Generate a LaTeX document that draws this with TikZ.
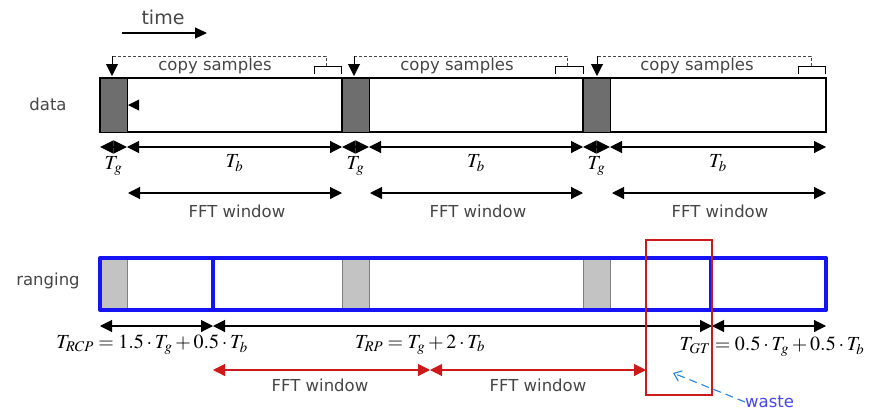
\documentclass[tikz,border=0pt]{standalone}
\usepackage{mathptmx}
\usepackage[no-math]{fontspec}
\newfontfamily\lblfont{DejaVu Sans}
\usetikzlibrary{arrows.meta}

\definecolor{txtgray}{RGB}{70,70,70}
\definecolor{guarddark}{RGB}{110,110,110}
\definecolor{guardlight}{RGB}{195,195,195}
\definecolor{rangeblue}{RGB}{20,20,245}
\definecolor{winred}{RGB}{205,25,25}
\definecolor{wasteblue}{RGB}{40,130,220}
\definecolor{wastetxt}{RGB}{70,70,235}

\tikzset{
  lbl/.style={font=\lblfont\fontsize{16.5}{18}\selectfont, text=txtgray, inner sep=0pt},
  mathlbl/.style={font=\fontsize{20}{22}\selectfont, inner sep=0pt},
  dimline/.style={{Triangle[length=12pt,width=12pt]}-{Triangle[length=12pt,width=12pt]}, line width=1.1pt},
  guarddim/.style={{Triangle[length=13.5pt,width=13pt]}-{Triangle[length=13.5pt,width=13pt]}, line width=1.1pt},
  redline/.style={{Triangle[length=12pt,width=12pt]}-{Triangle[length=12pt,width=12pt]}, line width=1.1pt, draw=winred, fill=winred},
  copyline/.style={densely dashed, line width=0.9pt, draw=txtgray},
  bracketline/.style={line width=1pt, draw=black},
  guardA/.style={fill=guarddark, draw=black, line width=1pt},
  guardB/.style={fill=guardlight, draw=gray, line width=1pt},
  symbox/.style={draw=black, line width=1.1pt},
  rangebox/.style={draw=rangeblue, line width=4pt, line join=round},
}

\begin{document}
\begin{tikzpicture}[x=1pt,y=-1pt]
\useasboundingbox (0,0) rectangle (870,410);

% ---------------- time arrow
\node[lbl, font=\lblfont\fontsize{19}{21}\selectfont] (time) at (163,17) {time};
\coordinate (t0) at (122,33);
\coordinate (t1) at (207,33);
\draw[-{Triangle[length=12pt,width=11pt]}, line width=1.1pt] (t0) -- (t1);

% ---------------- row labels
\node[lbl] (data) at (48,104) {data};
\node[lbl] (ranging) at (48,281) {ranging};

% ---------------- data row: three OFDM symbols (guard + body)
\foreach \g/\e/\n in {100/342/1, 342/583/2, 583/826/3}{
  \pgfmathsetmacro{\gb}{\g+27}
  \coordinate (gs\n) at (\g,78);
  \coordinate (ge\n) at (\gb,132);
  \coordinate (se\n) at (\e,132);
  \draw[symbox] (gs\n) rectangle (se\n);
  \draw[guardA] (gs\n) rectangle (ge\n);
}

% cyclic-prefix copy arrows
\foreach \a/\m/\bl/\br/\cx/\n in {112/326/314/341/215/1, 354/567/555/583/457/2, 597/811/798/825/697/3}{
  \coordinate (ca\n) at (\a,56);
  \coordinate (cd\n) at (\a,76);
  \coordinate (cm\n) at (\m,56);
  \coordinate (cb\n) at (\m,66);
  \coordinate (bl\n) at (\bl,66);
  \coordinate (br\n) at (\br,66);
  \coordinate (blt\n) at (\bl,74);
  \coordinate (brt\n) at (\br,74);
  \draw[copyline] (cb\n) -- (cm\n) -- (ca\n);
  \draw[line width=1pt, -{Triangle[length=12pt,width=12pt]}] (ca\n) -- (cd\n);
  \draw[bracketline] (blt\n) -- (bl\n) -- (br\n) -- (brt\n);
  \node[lbl] (cs\n) at (\cx,66) {copy samples};
}

% marker at the start of the first body
\fill (128,105) -- (139,99.5) -- (139,110.5) -- cycle;

% durations under the data row
\foreach \g/\e/\n in {100/342/1, 342/583/2, 583/826/3}{
  \pgfmathsetmacro{\gb}{\g+27}
  \pgfmathsetmacro{\gm}{\g+13.5}
  \pgfmathsetmacro{\bm}{(\gb+\e)/2}
  \coordinate (dg0\n) at (\g,147);
  \coordinate (dg1\n) at (\gb,147);
  \coordinate (db1\n) at (\e,147);
  \draw[guarddim] (dg0\n) -- (dg1\n);
  \draw[dimline] (dg1\n) -- (db1\n);
  \node[mathlbl] (Tg\n) at (\gm,166) {$T_g$};
  \node[mathlbl] (Tb\n) at (\bm,163) {$T_b$};
}

% FFT windows of the data symbols
\foreach \l/\r/\c/\n in {128/342/237/1, 370/583/478/2, 612/826/720/3}{
  \coordinate (fl\n) at (\l,193);
  \coordinate (fr\n) at (\r,193);
  \draw[dimline] (fl\n) -- (fr\n);
  \node[lbl] (fw\n) at (\c,211) {FFT window};
}

% ---------------- ranging row
\foreach \g/\n in {100/1, 342/2, 583/3}{
  \pgfmathsetmacro{\gb}{\g+27}
  \coordinate (rg0\n) at (\g,258);
  \coordinate (rg1\n) at (\gb,310);
  \draw[guardB] (rg0\n) rectangle (rg1\n);
}
\coordinate (rA) at (100,258);
\coordinate (rB) at (826,310);
\coordinate (rp0) at (213,258);
\coordinate (rp1) at (213,310);
\coordinate (rq0) at (711,258);
\coordinate (rq1) at (711,310);
\draw[rangebox] (rA) rectangle (rB);
\draw[rangebox] (rp0) -- (rp1);
\draw[rangebox] (rq0) -- (rq1);

% durations under the ranging row
\coordinate (m0) at (100,326);
\coordinate (m1) at (213,326);
\coordinate (m2) at (712,326);
\coordinate (m3) at (826,326);
\draw[dimline] (m0) -- (m1);
\draw[dimline] (m1) -- (m2);
\draw[dimline] (m2) -- (m3);
\node[mathlbl] (Trcp) at (152,345) {$T_{RCP} = 1.5\cdot T_g + 0.5\cdot T_b$};
\node[mathlbl] (Trp) at (420,345) {$T_{RP} = T_g + 2\cdot T_b$};
\node[mathlbl] (Tgt) at (772,347) {$T_{GT} = 0.5\cdot T_g + 0.5\cdot T_b$};

% FFT windows of the ranging symbol
\coordinate (w0) at (213,370);
\coordinate (w1) at (430,370);
\coordinate (w2) at (646,370);
\draw[redline] (w0) -- (w1);
\draw[redline] (w1) -- (w2);
\node[lbl] (rw1) at (320,385) {FFT window};
\node[lbl] (rw2) at (538,385) {FFT window};

% unused part of the ranging symbol
\coordinate (x0) at (646,240);
\coordinate (x1) at (712,395);
\draw[draw=winred, line width=1.2pt] (x0) rectangle (x1);

\node[lbl, text=wastetxt, anchor=west] (waste) at (745,402) {waste};
\coordinate (wa) at (673,373);
\draw[wasteblue, dashed, dash pattern=on 8pt off 5pt, line width=1.1pt, -{Straight Barb[length=7pt,width=11pt]}] (waste.west) -- (wa);
\end{tikzpicture}
\end{document}
